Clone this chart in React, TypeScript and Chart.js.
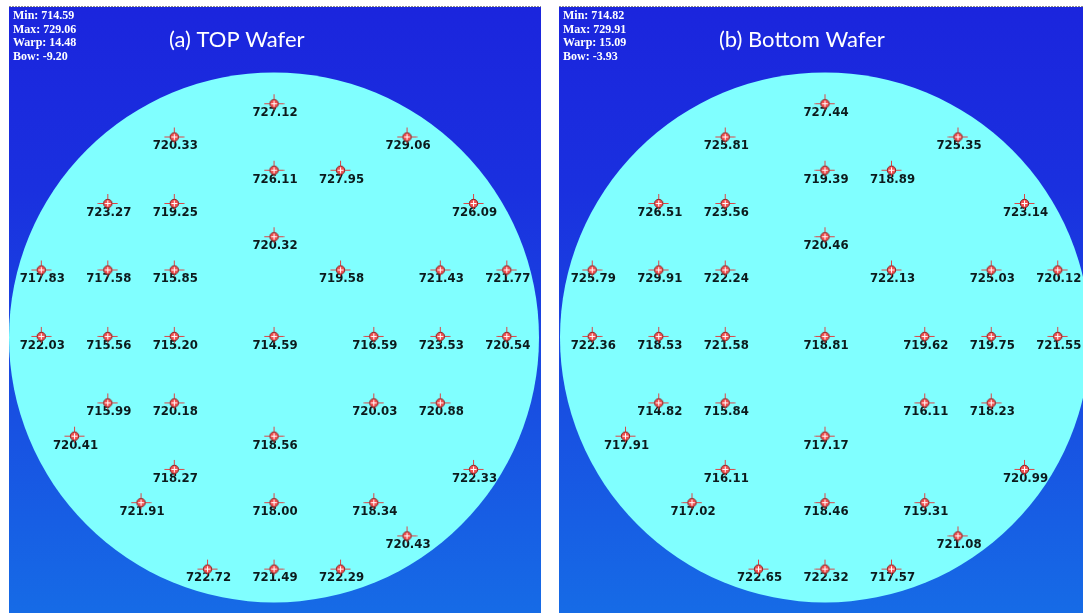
import React, { useEffect, useRef } from "react";
import { Chart, registerables } from "chart.js";

Chart.register(...registerables);

// Measurement site grid (in site-pitch units, +y towards the top of the map)
const siteCols = [0, -3, 4, 0, 2, -5, -3, 6, 0, -7, -5, -3, 2, 5, 7, -7, -5, -3, 0, 3, 5, 7, -5, -3, 3, 5, -6, 0, -3, 6, -4, 0, 3, 4, -2, 0, 2];
const siteRows = [7, 6, 6, 5, 5, 4, 4, 4, 3, 2, 2, 2, 2, 2, 2, 0, 0, 0, 0, 0, 0, 0, -2, -2, -2, -2, -3, -3, -4, -4, -5, -5, -5, -6, -7, -7, -7];

// Thickness readings per site
const topWaferValues = [727.12, 720.33, 729.06, 726.11, 727.95, 723.27, 719.25, 726.09, 720.32, 717.83, 717.58, 715.85, 719.58, 721.43, 721.77, 722.03, 715.56, 715.2, 714.59, 716.59, 723.53, 720.54, 715.99, 720.18, 720.03, 720.88, 720.41, 718.56, 718.27, 722.33, 721.91, 718.0, 718.34, 720.43, 722.72, 721.49, 722.29];
const bottomWaferValues = [727.44, 725.81, 725.35, 719.39, 718.89, 726.51, 723.56, 723.14, 720.46, 725.79, 729.91, 722.24, 722.13, 725.03, 720.12, 722.36, 718.53, 721.58, 718.81, 719.62, 719.75, 721.55, 714.82, 715.84, 716.11, 718.23, 717.91, 717.17, 716.11, 720.99, 717.02, 718.46, 719.31, 721.08, 722.65, 722.32, 717.57];

// Summary statistics
const statNames = ["Min", "Max", "Warp", "Bow"];
const topWaferStats = ["714.59", "729.06", "14.48", "-9.20"];
const bottomWaferStats = ["714.82", "729.91", "15.09", "-3.93"];

// Wafer edge radius in site-pitch units
const WAFER_RADIUS = 7.97;

function makeCrosshair(): HTMLCanvasElement {
  const c = document.createElement("canvas");
  c.width = 21;
  c.height = 21;
  const g = c.getContext("2d")!;
  const m = 10.5;
  g.lineWidth = 1;
  g.strokeStyle = "#dc4545";
  g.beginPath();
  g.moveTo(0.5, m);
  g.lineTo(20.5, m);
  g.moveTo(m, 1);
  g.lineTo(m, 17);
  g.stroke();
  g.beginPath();
  g.arc(m, m, 4.2, 0, Math.PI * 2);
  g.fillStyle = "#f25252";
  g.fill();
  g.strokeStyle = "#862020";
  g.stroke();
  g.strokeStyle = "#ffffff";
  g.beginPath();
  g.moveTo(m - 3, m);
  g.lineTo(m + 3, m);
  g.moveTo(m, m - 3);
  g.lineTo(m, m + 3);
  g.stroke();
  return c;
}

type PanelProps = {
  values: number[];
  stats: string[];
  title: string;
  width: number;
  height: number;
  xMin: number;
  xMax: number;
  yMin: number;
  yMax: number;
};

function WaferPanel({ values, stats, title, width, height, xMin, xMax, yMin, yMax }: PanelProps) {
  const ref = useRef<HTMLCanvasElement | null>(null);

  useEffect(() => {
    if (!ref.current) return;
    const marker = makeCrosshair();

    const waferPlugin = {
      id: "waferMap",
      beforeDraw(chart: any) {
        const { ctx } = chart;
        const w = chart.width;
        const h = chart.height;
        const xs = chart.scales.x;
        const ys = chart.scales.y;
        ctx.save();
        // page-edge ruler row
        ctx.fillStyle = "#ffffff";
        ctx.fillRect(0, 0, w, 1);
        for (let x = 0; x < w; x += 3) {
          ctx.fillStyle = "#8c8c8c";
          ctx.fillRect(x, 0, 2, 1);
        }
        // background
        const grad = ctx.createLinearGradient(0, 1, 0, h);
        grad.addColorStop(0, "#1b25dd");
        grad.addColorStop(0.3, "#1a30df");
        grad.addColorStop(0.7, "#1852e2");
        grad.addColorStop(1, "#166be6");
        ctx.fillStyle = grad;
        ctx.fillRect(0, 1, w, h - 1);
        // wafer disc
        const cx = xs.getPixelForValue(0);
        const cy = ys.getPixelForValue(0);
        const r = xs.getPixelForValue(WAFER_RADIUS) - cx;
        ctx.beginPath();
        ctx.arc(cx, cy + 1, r, 0, Math.PI * 2);
        ctx.fillStyle = "#80ffff";
        ctx.fill();
        ctx.restore();
      },
      beforeDatasetsDraw(chart: any) {
        const { ctx } = chart;
        const meta = chart.getDatasetMeta(0);
        const data = chart.data.datasets[0].data as any[];
        ctx.save();
        ctx.font = 'bold 13px "DejaVu Sans Condensed", "DejaVu Sans", Arial, sans-serif';
        ctx.fillStyle = "#0c1a1c";
        ctx.textAlign = "center";
        ctx.textBaseline = "middle";
        meta.data.forEach((el: any, i: number) => {
          ctx.fillText(data[i].v.toFixed(2), el.x + 1, el.y + 9);
        });
        ctx.restore();
      },
      afterDraw(chart: any) {
        const { ctx } = chart;
        ctx.save();
        ctx.fillStyle = "#ffffff";
        ctx.font = 'bold 12px "Liberation Serif", "Times New Roman", serif';
        ctx.textAlign = "left";
        ctx.textBaseline = "middle";
        statNames.forEach((name, i) => {
          ctx.fillText(`${name}: ${stats[i]}`, 4, 10 + i * 13.6);
        });
        ctx.font = '22px Lato, "Open Sans", sans-serif';
        ctx.fillText(title, 160, 34);
        ctx.restore();
      },
    };

    const chart = new Chart(ref.current, {
      type: "scatter",
      data: {
        datasets: [
          {
            data: values.map((v, i) => ({ x: siteCols[i], y: siteRows[i], v })) as any,
            pointStyle: marker as any,
            pointRadius: 10,
          },
        ],
      },
      options: {
        animation: false,
        responsive: false,
        devicePixelRatio: 1,
        layout: { padding: 0, autoPadding: false },
        plugins: { legend: { display: false }, tooltip: { enabled: false } },
        events: [],
        scales: {
          x: { type: "linear", min: xMin, max: xMax, display: false },
          y: { type: "linear", min: yMin, max: yMax, display: false },
        },
      },
      plugins: [waferPlugin],
    });
    return () => chart.destroy();
  }, [values, stats, title, xMin, xMax, yMin, yMax]);

  return <canvas ref={ref} width={width} height={height} style={{ display: "block", width, height }} />;
}

export default function App() {
  return (
    <div style={{ position: "absolute", left: 0, top: 0, width: 1083, height: 613, background: "#ffffff", overflow: "hidden" }}>
      <div style={{ position: "absolute", left: 9, top: 6 }}>
        <WaferPanel
          values={topWaferValues}
          stats={topWaferStats}
          title="(a) TOP Wafer"
          width={532}
          height={607}
          xMin={-7.97}
          xMax={8.03}
          yMin={-8.32}
          yMax={9.94}
        />
      </div>
      <div style={{ position: "absolute", left: 559, top: 6 }}>
        <WaferPanel
          values={bottomWaferValues}
          stats={bottomWaferStats}
          title="(b) Bottom Wafer"
          width={524}
          height={607}
          xMin={-8.0}
          xMax={7.76}
          yMin={-8.32}
          yMax={9.94}
        />
      </div>
    </div>
  );
}
